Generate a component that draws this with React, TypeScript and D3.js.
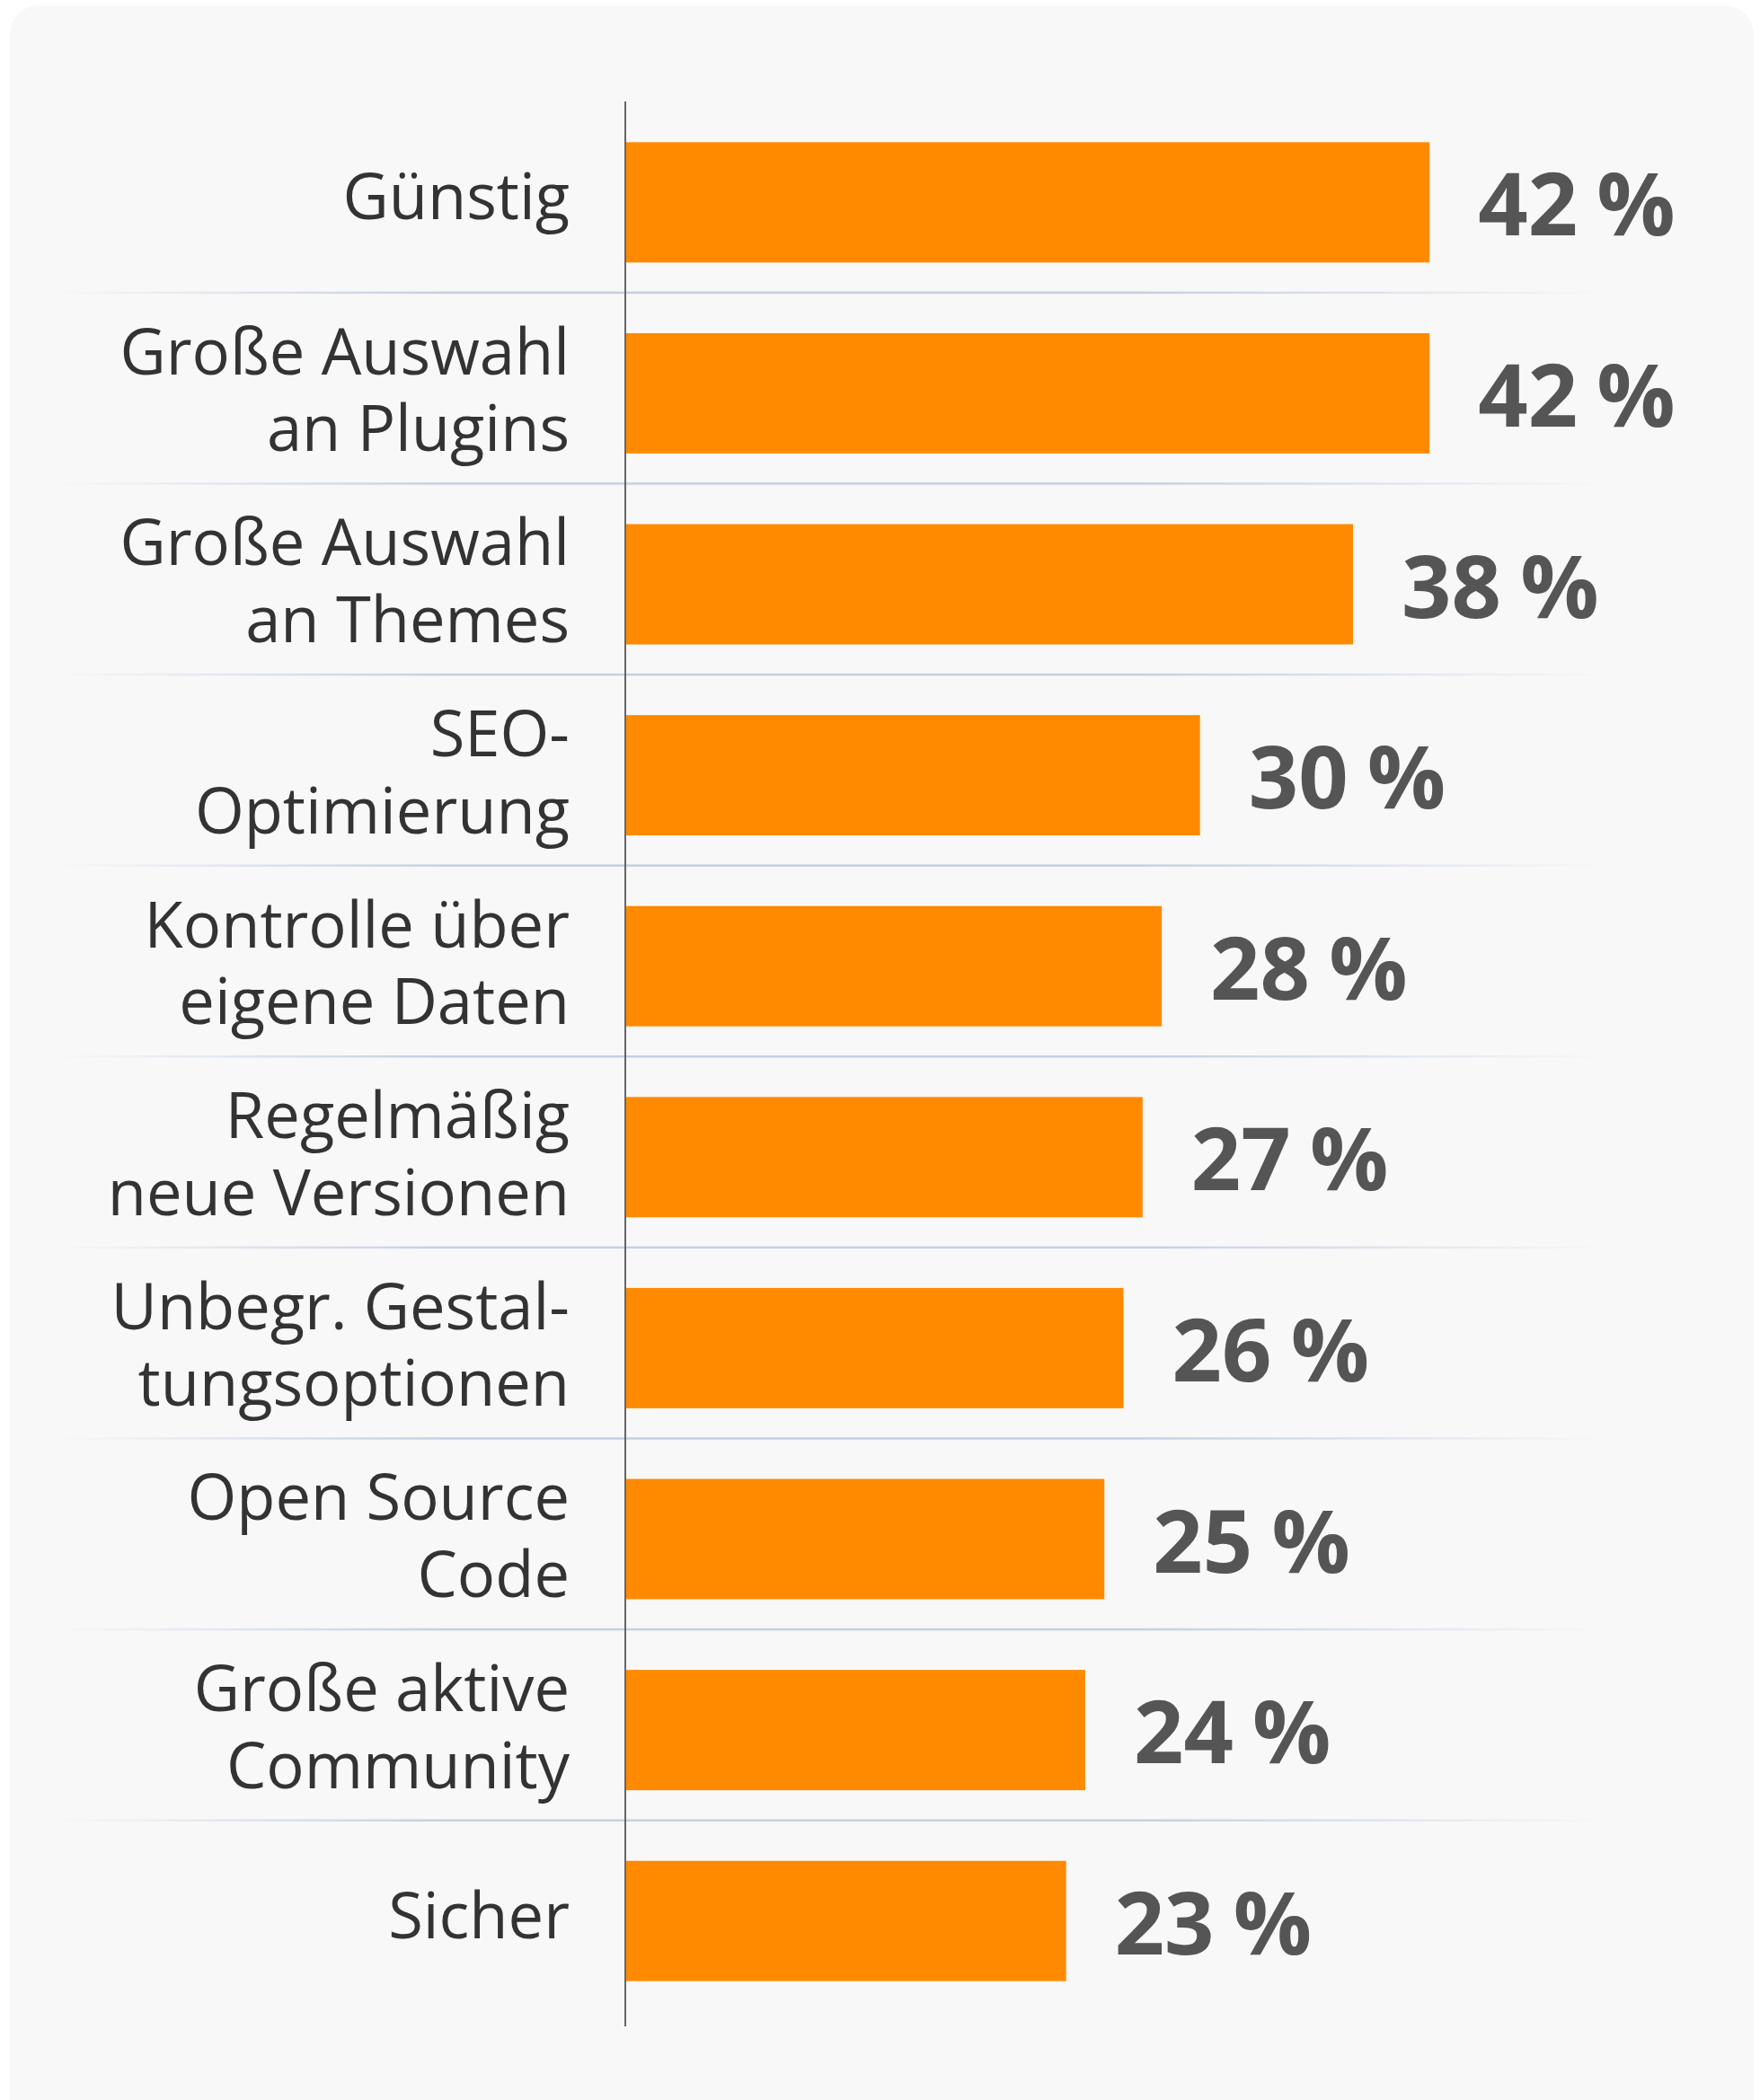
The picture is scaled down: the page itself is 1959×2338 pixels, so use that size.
import React from "react";
import * as d3 from "d3";

const labelLines: string[][] = [
  ["Günstig"],
  ["Große Auswahl", "an Plugins"],
  ["Große Auswahl", "an Themes"],
  ["SEO-", "Optimierung"],
  ["Kontrolle über", "eigene Daten"],
  ["Regelmäßig", "neue Versionen"],
  ["Unbegr. Gestal-", "tungsoptionen"],
  ["Open Source", "Code"],
  ["Große aktive", "Community"],
  ["Sicher"],
];
const values: number[] = [42, 42, 38, 30, 28, 27, 26, 25, 24, 23];

const W = 1959;
const H = 2338;

export default function App() {
  const x = d3.scaleLinear().domain([0, 50]).range([697, 697 + 1064.5]);
  const y = d3
    .scaleBand<number>()
    .domain(values.map((_, i) => i))
    .range([119, 2245])
    .paddingInner(0.37)
    .paddingOuter(0.185);
  const step = y.step();
  const bw = y.bandwidth();
  const labelFs = 70.5;
  const lineH = 85.6;
  const valFs = 97;

  return (
    <svg
      width={W}
      height={H}
      style={{ position: "absolute", left: 0, top: 0, background: "#ffffff" }}
    >
      <defs>
        <linearGradient id="sep" x1="60" x2="1790" y1="0" y2="0" gradientUnits="userSpaceOnUse">
          <stop offset="0" stopColor="#c5d0e2" stopOpacity="0" />
          <stop offset="0.25" stopColor="#c5d0e2" stopOpacity="1" />
          <stop offset="0.7" stopColor="#c5d0e2" stopOpacity="1" />
          <stop offset="1" stopColor="#c5d0e2" stopOpacity="0" />
        </linearGradient>
      </defs>
      <rect x={11} y={6} width={1941} height={2380} rx={32} ry={32} fill="#f8f8f8" />
      {values.slice(0, -1).map((_, i) => {
        const yy = (y(i) as number) + bw / 2 + step / 2 - 6;
        return <rect key={"s" + i} x={60} y={yy - 1} width={1730} height={2.5} fill="url(#sep)" />;
      })}
      {values.map((v, i) => {
        const cy = (y(i) as number) + bw / 2;
        return (
          <g key={"b" + i}>
            <rect x={x(0)} y={y(i)} width={x(v) - x(0)} height={bw} fill="#ff8a00" />
            <text
              x={x(v) + 54}
              y={cy + 37}
              fontFamily="'Open Sans', sans-serif"
              fontWeight={700}
              fontSize={valFs}
              fill="#555555"
            >
              {String(v)}
              <tspan dx={-4}>{"\u00A0%"}</tspan>
            </text>
          </g>
        );
      })}
      {labelLines.map((lines, i) => {
        const cy = (y(i) as number) + bw / 2;
        const n = lines.length;
        return (
          <text
            key={"l" + i}
            textAnchor="end"
            fontFamily="'Open Sans', sans-serif"
            fontSize={labelFs}
            fill="#333333"
          >
            {lines.map((ln, j) => (
              <tspan key={j} x={634} y={cy + 19 + (n - 1) * 2.6 + (j - (n - 1) / 2) * lineH}>
                {ln}
              </tspan>
            ))}
          </text>
        );
      })}
      <line x1={696} x2={696} y1={113} y2={2256} stroke="#666666" strokeWidth={2} />
    </svg>
  );
}
